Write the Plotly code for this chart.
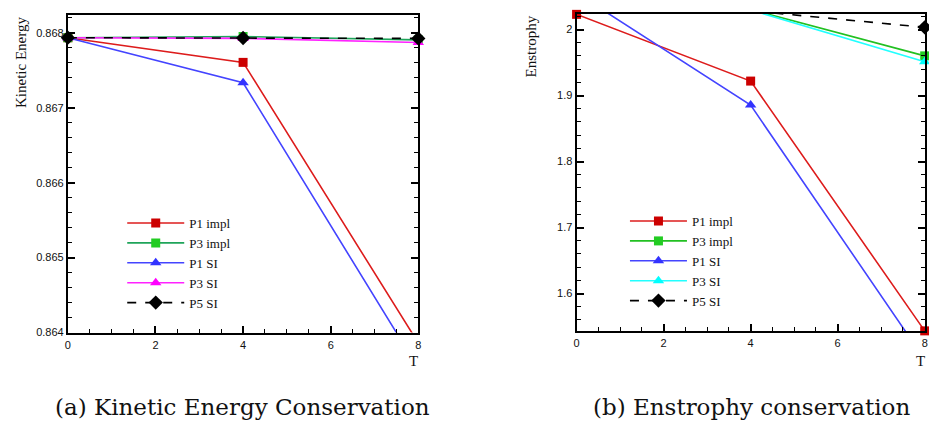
import plotly.graph_objects as go

# ---------------- data ----------------
T = [0, 4, 8]
series_names = ["P1 impl", "P3 impl", "P1 SI", "P3 SI", "P5 SI"]

ke_p1_impl = [0.867934, 0.867605, 0.863860]
ke_p3_impl = [0.867934, 0.867950, 0.867905]
ke_p1_si = [0.867934, 0.867333, 0.863523]
ke_p3_si = [0.867934, 0.867925, 0.867870]
ke_p5_si = [0.867934, 0.867930, 0.867925]

en_p1_impl = [2.0230, 1.9219, 1.5434]
en_p3_impl = [2.0400, 2.0304, 1.9601]
en_p1_si = [2.0552, 1.8855, 1.5000]
en_p3_si = [2.0400, 2.0297, 1.9513]
en_p5_si = [2.0350, 2.0284, 2.0034]

ke_range = [0.864, 0.86824]
en_range = [1.5428, 2.0234]
t_range = [0, 8]

ke_tickvals = [0.864, 0.865, 0.866, 0.867, 0.868]
en_tickvals = [1.6, 1.7, 1.8, 1.9, 2.0]
t_tickvals = [0, 2, 4, 6, 8]

# ---------------- styles ----------------
W, H = 929, 426
def px(x):
    return x / W
def py(y):
    return 1 - y / H

styles_left = [
    dict(line=dict(color="#dd1c1c", width=1.6, dash="solid"), marker=dict(symbol="square", size=9, color="#cc0000")),
    dict(line=dict(color="#1fa45a", width=1.6, dash="solid"), marker=dict(symbol="square", size=9, color="#22cc22")),
    dict(line=dict(color="#4444ff", width=1.6, dash="solid"), marker=dict(symbol="triangle-up", size=10, color="#3333ff")),
    dict(line=dict(color="#ff22ff", width=1.6, dash="solid"), marker=dict(symbol="triangle-up", size=10, color="#ff00ff")),
    dict(line=dict(color="#000000", width=1.6, dash="dash"), marker=dict(symbol="diamond", size=11, color="#000000")),
]
styles_right = [
    dict(line=dict(color="#dd1c1c", width=1.6, dash="solid"), marker=dict(symbol="square", size=9, color="#cc0000")),
    dict(line=dict(color="#22c022", width=1.6, dash="solid"), marker=dict(symbol="square", size=9, color="#22cc22")),
    dict(line=dict(color="#4444ff", width=1.6, dash="solid"), marker=dict(symbol="triangle-up", size=10, color="#3333ff")),
    dict(line=dict(color="#22ffff", width=1.6, dash="solid"), marker=dict(symbol="triangle-up", size=10, color="#00ffff")),
    dict(line=dict(color="#000000", width=1.6, dash="dash"), marker=dict(symbol="diamond", size=11, color="#000000")),
]

fig = go.Figure()
ke_data = [ke_p1_impl, ke_p3_impl, ke_p1_si, ke_p3_si, ke_p5_si]
en_data = [en_p1_impl, en_p3_impl, en_p1_si, en_p3_si, en_p5_si]

for name, ys, st in zip(series_names, ke_data, styles_left):
    fig.add_trace(go.Scatter(x=T, y=ys, name=name, mode="lines+markers",
                             line=st["line"], marker=st["marker"],
                             xaxis="x", yaxis="y", legend="legend", cliponaxis=False))
for name, ys, st in zip(series_names, en_data, styles_right):
    fig.add_trace(go.Scatter(x=T, y=ys, name=name, mode="lines+markers",
                             line=st["line"], marker=st["marker"],
                             xaxis="x2", yaxis="y2", legend="legend2", cliponaxis=False))

tickfont = dict(family="Liberation Sans, Arial", size=11, color="#111")
xcommon = dict(range=t_range, tickvals=t_tickvals, ticks="inside", ticklen=7, tickwidth=1.5,
               tickcolor="black", showline=True, linecolor="black", linewidth=2, mirror=True,
               showgrid=False, zeroline=False, tickfont=tickfont, ticklabelstandoff=1,
               minor=dict(dtick=0.5, ticks="inside", ticklen=4, tickcolor="black", tickwidth=1, showgrid=False))
ycommon = dict(ticks="inside", ticklen=7, tickwidth=1.5, tickcolor="black", showline=True,
               linecolor="black", linewidth=2, mirror="ticks", showgrid=False, zeroline=False,
               tickfont=tickfont)

fig.update_layout(
    width=W, height=H,
    margin=dict(l=0, r=0, t=0, b=0),
    paper_bgcolor="white", plot_bgcolor="white",
    showlegend=True,
    xaxis=dict(domain=[px(65.3), px(418)], anchor="y", **xcommon),
    yaxis=dict(domain=[py(337.3), py(15)], anchor="x", range=ke_range, tickvals=ke_tickvals,
               tickformat=".3f",
               minor=dict(dtick=0.0002, ticks="inside", ticklen=4, tickcolor="black", tickwidth=1, showgrid=False),
               **ycommon),
    xaxis2=dict(domain=[px(577.3), px(927.7)], anchor="y2", **xcommon),
    yaxis2=dict(domain=[py(336), py(14.3)], anchor="x2", range=en_range, tickvals=en_tickvals,
                minor=dict(dtick=0.02, ticks="inside", ticklen=4, tickcolor="black", tickwidth=1, showgrid=False),
                **ycommon),
    legend=dict(x=px(120), y=py(211), xanchor="left", yanchor="top", bgcolor="rgba(0,0,0,0)",
                font=dict(family="Liberation Serif, Times New Roman", size=13, color="#111"),
                itemwidth=57, tracegroupgap=0),
    legend2=dict(x=px(626), y=py(209), xanchor="left", yanchor="top", bgcolor="rgba(0,0,0,0)",
                 font=dict(family="Liberation Serif, Times New Roman", size=13, color="#111"),
                 itemwidth=57, tracegroupgap=0),
)

serif = "Liberation Serif, Times New Roman"
annots = [
    dict(text="Kinetic Energy", x=px(18), y=py(63), textangle=-90, font=dict(family=serif, size=15, color="#111")),
    dict(text="Enstrophy", x=px(531), y=py(47.5), textangle=-90, font=dict(family=serif, size=15, color="#111")),
    dict(text="T", x=px(413), y=py(366), font=dict(family=serif, size=15, color="#111")),
    dict(text="T", x=px(923), y=py(366), font=dict(family=serif, size=15, color="#111")),
    dict(text="(a) Kinetic Energy Conservation", x=px(241), y=py(413),
         font=dict(family="DejaVu Serif", size=23, color="#111")),
    dict(text="(b) Enstrophy conservation", x=px(753), y=py(413),
         font=dict(family="DejaVu Serif", size=23, color="#111")),
]
for a in annots:
    fig.add_annotation(xref="paper", yref="paper", showarrow=False, xanchor="center", yanchor="middle", **a)

fig.write_html("out.html")
